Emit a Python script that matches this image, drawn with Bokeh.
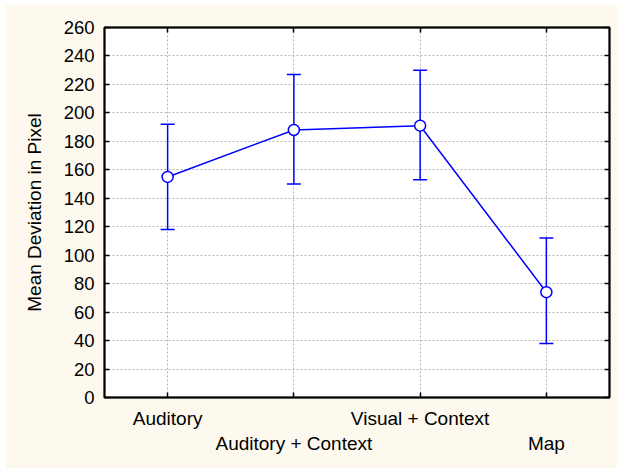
from bokeh.plotting import figure
from bokeh.models import ColumnDataSource, Whisker, TeeHead, FixedTicker, LinearAxis, Range1d
from bokeh.embed import file_html
from bokeh.resources import INLINE

categories = ["Auditory", "Auditory + Context", "Visual + Context", "Map"]
means = [155, 188, 191, 74]
upper = [192, 227, 230, 112]
lower = [118, 150, 153, 38]
y_ticks = list(range(0, 261, 20))

xs = list(range(len(categories)))
src = ColumnDataSource(dict(x=xs, mean=means, upper=upper, lower=lower))

FONT = "Liberation Sans"
BLUE = "#0000FF"
CREAM = "#FEF9EE"

p = figure(width=612, height=464, output_backend="svg", toolbar_location=None,
           x_range=Range1d(-0.5, len(categories) - 0.5), y_range=Range1d(0, 260),
           min_border_left=99, min_border_right=8, min_border_top=23, min_border_bottom=71,
           background_fill_color="white", border_fill_color=CREAM)
p.margin = (4, 6, 2, 5)
p.outline_line_color = "black"
p.outline_line_width = 2

labels = {}
for i, c in enumerate(categories):
    labels[i] = c if i % 2 == 0 else "\n" + c

for ax in p.xaxis:
    ax.ticker = FixedTicker(ticks=xs)
    ax.major_label_overrides = labels
for ax in p.yaxis:
    ax.ticker = FixedTicker(ticks=y_ticks)
    ax.axis_label = "Mean Deviation in Pixel"

for ax in p.axis:
    ax.major_tick_in = 5
    ax.major_tick_out = 0
    ax.minor_tick_line_color = None
    ax.axis_line_width = 1.5
    ax.major_tick_line_width = 1.5
    ax.major_label_text_font = FONT
    ax.major_label_text_color = "black"
    ax.axis_label_text_font = FONT
    ax.axis_label_text_font_size = "19px"
    ax.axis_label_text_font_style = "normal"
    ax.axis_label_text_color = "black"

p.xaxis.major_label_text_font_size = "19px"
p.yaxis.major_label_text_font_size = "18.5px"
p.xaxis.major_label_standoff = 10
p.yaxis.major_label_standoff = 10
p.yaxis.axis_label_standoff = 16

top = LinearAxis(ticker=FixedTicker(ticks=xs), major_tick_in=5, major_tick_out=0,
                 minor_tick_line_color=None, axis_line_width=1.5, major_tick_line_width=1.5,
                 major_label_overrides={i: "" for i in xs})
right = LinearAxis(ticker=FixedTicker(ticks=y_ticks), major_tick_in=5, major_tick_out=0,
                   minor_tick_line_color=None, axis_line_width=1.5, major_tick_line_width=1.5,
                   major_label_overrides={v: "" for v in y_ticks})
p.add_layout(top, "above")
p.add_layout(right, "right")

p.grid.grid_line_color = "#b4b4b4"
p.grid.grid_line_dash = "2 2"
p.grid.grid_line_width = 1
p.xgrid.ticker = FixedTicker(ticks=xs)
p.ygrid.ticker = FixedTicker(ticks=y_ticks)

w = Whisker(source=src, base="x", upper="upper", lower="lower",
            line_color=BLUE, line_width=1.5,
            upper_head=TeeHead(size=14, line_color=BLUE, line_width=1.5),
            lower_head=TeeHead(size=14, line_color=BLUE, line_width=1.5))
p.add_layout(w)

p.line("x", "mean", source=src, line_color=BLUE, line_width=1.5)
p.scatter("x", "mean", source=src, size=11, marker="circle",
          fill_color="white", line_color=BLUE, line_width=1.5)

open("out.html", "w").write(file_html(p, INLINE))
